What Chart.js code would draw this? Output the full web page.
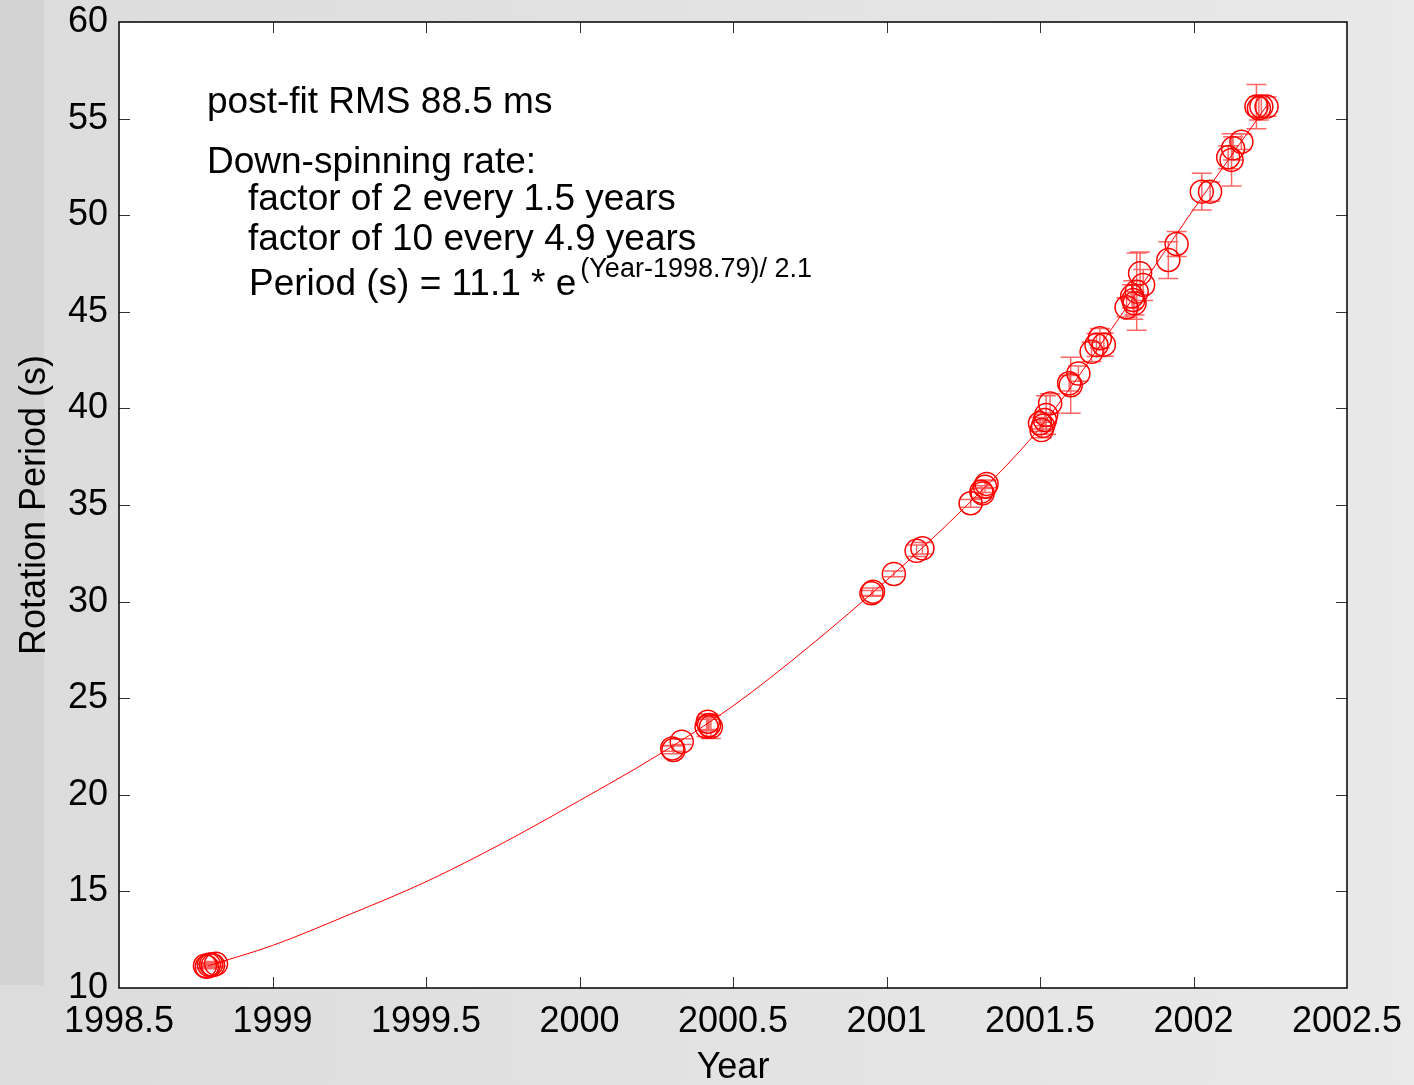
<!DOCTYPE html>
<html>
<head>
<meta charset="utf-8">
<script src="https://cdn.jsdelivr.net/npm/chart.js@4/dist/chart.umd.min.js"></script>
<style>
  html, body { margin: 0; padding: 0; }
  body {
    width: 1414px; height: 1085px; overflow: hidden; position: relative;
    background: linear-gradient(to right, #dcdcdc, #e9e9e9);
  }
  #strip { position: absolute; left: 0; top: 0; width: 44px; height: 985px; background: #d3d3d3; }
  #wrap { position: absolute; left: 0; top: 0; width: 1414px; height: 1085px; }
</style>
</head>
<body>
<div id="strip"></div>
<div id="wrap"><canvas id="myChart"></canvas></div>
<script>
// measured points (year, rotation period in s, 1-sigma error)
const years = [
  1998.780, 1998.786, 1998.793, 1998.800, 1998.806, 1998.816,
  2000.302, 2000.306, 2000.333, 2000.414, 2000.418, 2000.422, 2000.428,
  2000.951, 2000.956, 2001.024, 2001.098, 2001.117, 2001.274, 2001.309, 2001.313, 2001.321, 2001.326,
  2001.500, 2001.505, 2001.510, 2001.516, 2001.520, 2001.533, 2001.595, 2001.600, 2001.625, 2001.668, 2001.684, 2001.695, 2001.708,
  2001.782, 2001.800, 2001.804, 2001.808, 2001.815, 2001.826, 2001.836, 2001.918, 2001.945,
  2002.027, 2002.054, 2002.113, 2002.124, 2002.129, 2002.156, 2002.205, 2002.213, 2002.221, 2002.238
];
const periods = [
  11.15, 11.10, 11.20, 11.22, 11.18, 11.25,
  22.40, 22.32, 22.75, 23.52, 23.78, 23.61, 23.52,
  30.43, 30.51, 31.43, 32.63, 32.76, 35.09, 35.69, 35.60, 35.95, 36.09,
  39.23, 38.88, 39.10, 39.40, 39.66, 40.26, 41.30, 41.20, 41.80, 42.93, 43.28, 43.63, 43.30,
  45.23, 45.80, 45.61, 45.44, 46.04, 46.99, 46.39, 47.68, 48.51,
  51.22, 51.22, 53.00, 52.86, 53.46, 53.80, 55.62, 55.53, 55.62, 55.62
];
const errors = [
  0.10, 0.10, 0.12, 0.10, 0.10, 0.12,
  0.15, 0.20, 0.15, 0.50, 0.40, 0.30, 0.60,
  0.15, 0.20, 0.15, 0.30, 0.30, 0.20, 0.30, 0.25, 0.30, 0.20,
  0.30, 0.40, 0.30, 0.30, 1.00, 0.50, 0.40, 1.45, 0.40, 0.50, 0.60, 0.50, 0.60,
  0.50, 0.60, 1.00, 0.60, 2.00, 1.10, 0.80, 0.95, 0.65,
  0.95, 0.50, 0.60, 1.35, 0.60, 0.40, 1.15, 0.60, 0.50, 0.50
];

// exponential fit curve
const fitYears   = [1998.79, 1999.0, 1999.25, 1999.5, 1999.75, 2000.0, 2000.25, 2000.5, 2000.75, 2001.0, 2001.25, 2001.5, 2001.75, 2002.0, 2002.24];
const fitPeriods = [11.15, 12.2, 13.8, 15.5, 17.5, 19.7, 22.0, 24.6, 27.7, 31.1, 34.8, 39.0, 44.5, 50.3, 55.7];

const xTickValues = [1998.5, 1999, 1999.5, 2000, 2000.5, 2001, 2001.5, 2002, 2002.5];
const xTickLabels = ['1998.5', '1999', '1999.5', '2000', '2000.5', '2001', '2001.5', '2002', '2002.5'];
const yTickValues = [10, 15, 20, 25, 30, 35, 40, 45, 50, 55, 60];
const yTickLabels = ['10', '15', '20', '25', '30', '35', '40', '45', '50', '55', '60'];

const FONT = '"Liberation Sans", Arial, Helvetica, sans-serif';

const frame = {
  id: 'frame',
  beforeDraw(chart) {
    const {ctx, chartArea: a} = chart;
    ctx.save();
    ctx.fillStyle = '#ffffff';
    ctx.fillRect(a.left, a.top, a.right - a.left, a.bottom - a.top);
    ctx.restore();
  },
  afterDraw(chart) {
    const {ctx, chartArea: a, scales} = chart;
    ctx.save();
    // inward ticks on all four sides
    ctx.strokeStyle = '#333';
    ctx.lineWidth = 1;
    ctx.beginPath();
    xTickValues.slice(1, -1).forEach(v => {
      const x = Math.round(scales.x.getPixelForValue(v)) + 0.5;
      ctx.moveTo(x, a.bottom); ctx.lineTo(x, a.bottom - 11);
      ctx.moveTo(x, a.top); ctx.lineTo(x, a.top + 11);
    });
    yTickValues.slice(1, -1).forEach(v => {
      const y = Math.round(scales.y.getPixelForValue(v)) + 0.5;
      ctx.moveTo(a.left, y); ctx.lineTo(a.left + 11, y);
      ctx.moveTo(a.right, y); ctx.lineTo(a.right - 11, y);
    });
    ctx.stroke();
    ctx.strokeStyle = '#000';
    ctx.lineWidth = 1.5;
    ctx.strokeRect(a.left, a.top, a.right - a.left, a.bottom - a.top);

    // annotation text
    ctx.fillStyle = '#000';
    ctx.textBaseline = 'alphabetic';
    ctx.textAlign = 'left';
    ctx.font = '37px ' + FONT;
    ctx.fillText('post-fit RMS 88.5 ms', 207, 113);
    ctx.fillText('Down-spinning rate:', 207, 173);
    ctx.fillText('factor of 2 every 1.5 years', 248, 210);
    ctx.fillText('factor of 10 every 4.9 years', 248, 250);
    const base = 'Period (s) = 11.1 * e';
    ctx.fillText(base, 249, 295);
    const w = ctx.measureText(base).width;
    ctx.font = '27px ' + FONT;
    ctx.fillText('(Year-1998.79)/ 2.1', 249 + w + 4, 277);
    ctx.restore();
  }
};

const errorBars = {
  id: 'errorBars',
  afterDatasetsDraw(chart) {
    const {ctx, scales} = chart;
    ctx.save();
    ctx.strokeStyle = 'rgba(255,0,0,0.6)';
    ctx.lineWidth = 1.5;
    ctx.beginPath();
    years.forEach((yr, i) => {
      const x = scales.x.getPixelForValue(yr);
      const y1 = scales.y.getPixelForValue(periods[i] + errors[i]);
      const y2 = scales.y.getPixelForValue(periods[i] - errors[i]);
      ctx.moveTo(x, y1); ctx.lineTo(x, y2);
      ctx.moveTo(x - 10, y1); ctx.lineTo(x + 10, y1);
      ctx.moveTo(x - 10, y2); ctx.lineTo(x + 10, y2);
    });
    ctx.stroke();
    ctx.restore();
  }
};

new Chart(document.getElementById('myChart'), {
  type: 'scatter',
  data: {
    datasets: [
      {
        type: 'line',
        label: 'fit',
        data: fitYears.map((x, i) => ({x: x, y: fitPeriods[i]})),
        borderColor: '#ff0000',
        borderWidth: 1,
        pointRadius: 0,
        cubicInterpolationMode: 'monotone',
        fill: false,
        order: 2
      },
      {
        label: 'period',
        data: years.map((x, i) => ({x: x, y: periods[i]})),
        pointStyle: 'circle',
        pointRadius: 11.5,
        pointBorderColor: '#ff0000',
        pointBackgroundColor: 'rgba(0,0,0,0)',
        pointBorderWidth: 1.5,
        order: 1
      }
    ]
  },
  options: {
    responsive: true,
    maintainAspectRatio: false,
    animation: false,
    layout: { padding: { left: 0, top: 22, right: 67, bottom: 0 } },
    plugins: { legend: { display: false }, tooltip: { enabled: false } },
    scales: {
      x: {
        type: 'linear',
        min: 1998.5, max: 2002.5,
        afterFit: s => { s.height = 97; s.paddingLeft = 0; s.paddingRight = 0; },
        afterBuildTicks: s => { s.ticks = xTickValues.map(v => ({value: v})); },
        grid: { drawOnChartArea: false, drawTicks: false },
        border: { display: false },
        ticks: {
          padding: 12, color: '#000', maxRotation: 0, autoSkip: false,
          font: { family: FONT, size: 36 },
          callback: (v) => xTickLabels[xTickValues.indexOf(v)]
        },
        title: { display: true, text: 'Year', color: '#000',
          font: { family: FONT, size: 36, lineHeight: 1 }, padding: { top: 0, bottom: -1 } }
      },
      y: {
        type: 'linear',
        min: 10, max: 60,
        afterFit: s => { s.width = 119; s.paddingTop = 0; s.paddingBottom = 0; },
        afterBuildTicks: s => { s.ticks = yTickValues.map(v => ({value: v})); },
        grid: { drawOnChartArea: false, drawTicks: false },
        border: { display: false },
        ticks: {
          padding: 11, color: '#000', autoSkip: false,
          font: { family: FONT, size: 36 },
          callback: (v) => yTickLabels[yTickValues.indexOf(v)]
        },
        title: { display: true, text: 'Rotation Period (s)', color: '#000',
          font: { family: FONT, size: 36, lineHeight: 1 }, padding: { top: 17, bottom: 0 } }
      }
    }
  },
  plugins: [frame, errorBars]
});
</script>
</body>
</html>
